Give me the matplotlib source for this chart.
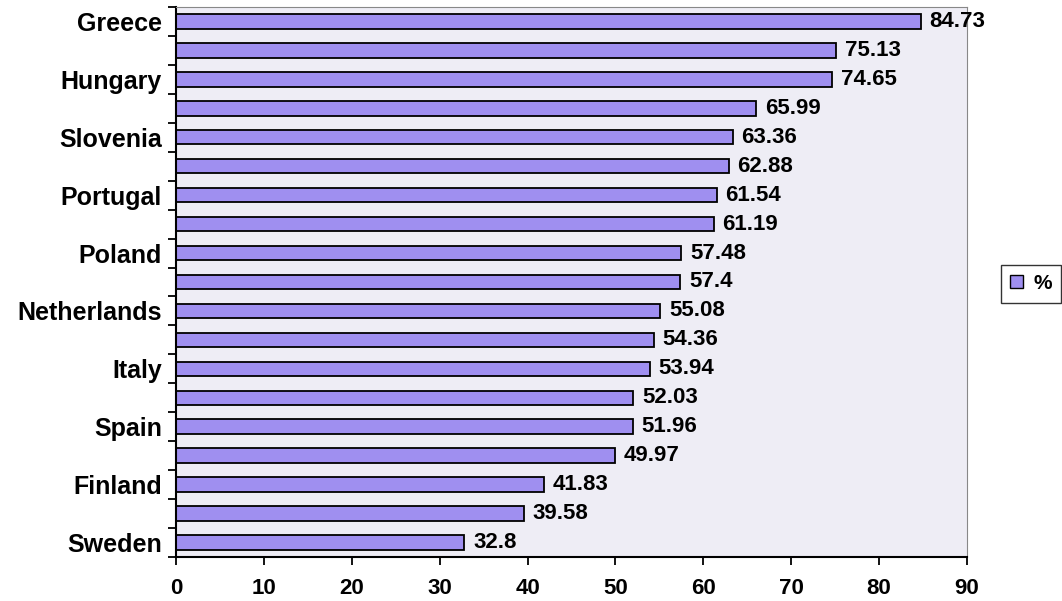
import matplotlib.pyplot as plt
from matplotlib.patches import Patch

# percentage by country, top to bottom
countries = ['Greece', '', 'Hungary', '', 'Slovenia', '', 'Portugal', '',
             'Poland', '', 'Netherlands', '', 'Italy', '', 'Spain', '',
             'Finland', '', 'Sweden']
values = [84.73, 75.13, 74.65, 65.99, 63.36, 62.88, 61.54, 61.19, 57.48,
          57.4, 55.08, 54.36, 53.94, 52.03, 51.96, 49.97, 41.83, 39.58, 32.8]
value_labels = ['84.73', '75.13', '74.65', '65.99', '63.36', '62.88', '61.54',
                '61.19', '57.48', '57.4', '55.08', '54.36', '53.94', '52.03',
                '51.96', '49.97', '41.83', '39.58', '32.8']
xticks = [0, 10, 20, 30, 40, 50, 60, 70, 80, 90]

plt.rcParams['font.family'] = ['Liberation Sans', 'DejaVu Sans']
plt.rcParams['font.weight'] = 'bold'

fig = plt.figure(figsize=(10.62, 6.01), dpi=100)
ax = fig.add_axes([0.1657, 0.0732, 0.7448, 0.9152])
ax.set_facecolor('#eeedf5')

n = len(values)
ypos = list(range(n))
bar_color = '#9f8ff0'
ax.barh(ypos, values, height=0.5, color=bar_color, edgecolor='black', linewidth=1.3)

for y, v, lab in zip(ypos, values, value_labels):
    ax.text(v + 1.0, y, lab, va='center', ha='left', fontsize=16, fontweight='bold')

ax.set_ylim(n - 0.5, -0.5)
ax.set_xlim(0, 90)
ax.set_xticks(xticks)
ax.set_xticklabels([str(t) for t in xticks], fontsize=16, fontweight='bold')

# labels at category centres, tick marks on category boundaries
ax.set_yticks(ypos)
ax.set_yticklabels(countries, fontsize=18, fontweight='bold')
ax.tick_params(axis='y', which='major', length=0, pad=10)
ax.set_yticks([i - 0.5 for i in range(n + 1)], minor=True)
ax.tick_params(axis='y', which='minor', length=6, width=1.3, direction='out')
ax.tick_params(axis='x', length=6, width=1.3, direction='out', pad=9)

ax.spines['left'].set_linewidth(1.5)
ax.spines['bottom'].set_linewidth(1.5)
ax.spines['top'].set_color('#888888')
ax.spines['right'].set_color('#888888')
ax.spines['top'].set_linewidth(0.8)
ax.spines['right'].set_linewidth(0.8)

leg = fig.legend(handles=[Patch(facecolor=bar_color, edgecolor='black', label='%')],
                 loc='center', bbox_to_anchor=(0.971, 0.528), frameon=True,
                 fancybox=False, edgecolor='black', fontsize=15,
                 handlelength=0.6, handleheight=0.6, handletextpad=0.5,
                 borderpad=0.45)
leg.get_frame().set_linewidth(1.0)

fig.savefig('out.png', dpi=100)
